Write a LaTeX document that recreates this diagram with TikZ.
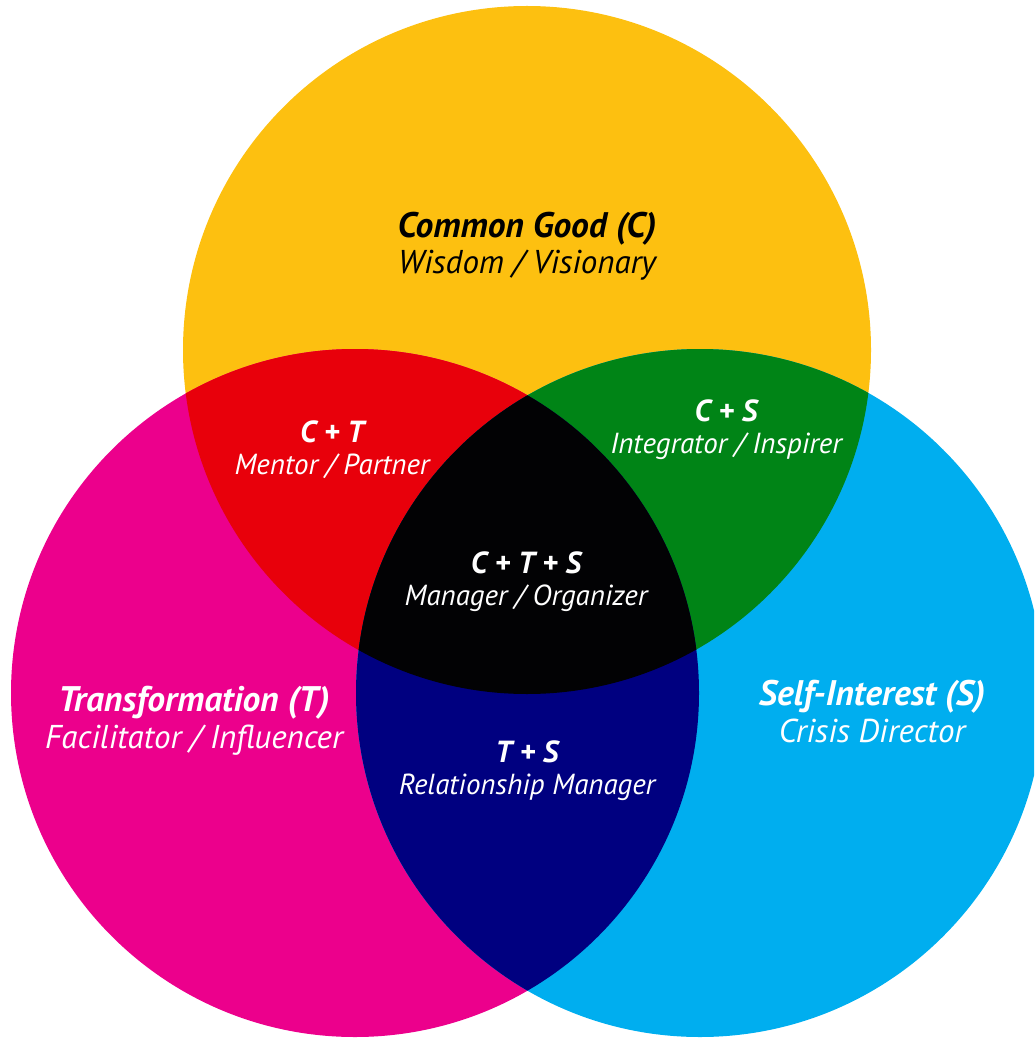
\documentclass[tikz,border=0pt]{standalone}
\usepackage{fontspec}
\setmainfont{PT Sans}
\usetikzlibrary{positioning}

\definecolor{goodyellow}{RGB}{253,192,16}
\definecolor{transmagenta}{RGB}{236,0,140}
\definecolor{selfcyan}{RGB}{0,174,239}
\definecolor{ctred}{RGB}{232,0,11}
\definecolor{csgreen}{RGB}{0,132,22}
\definecolor{tsnavy}{RGB}{0,0,128}
\definecolor{ctsblack}{RGB}{2,2,4}

% heading lines of the labels
\newcommand{\outerhead}[1]{{\fontsize{35.5}{36.5}\selectfont\bfseries #1}}
\newcommand{\innerhead}[1]{{\fontsize{30.5}{31.5}\selectfont\bfseries #1}}

\begin{document}
\begin{tikzpicture}[x=1pt,y=-1pt,
  outerlabel/.style={font=\itshape\fontsize{33}{36.5}\selectfont},
  innerlabel/.style={font=\itshape\fontsize{29}{31.5}\selectfont}]
\tikzstyle{every node}+=[inner sep=0pt, align=center, anchor=base, text=white]
\useasboundingbox (0,0) rectangle (1034,1040);
\clip (0,0) rectangle (1034,1040);
\coordinate (c) at (527,350);
\coordinate (t) at (355,693);
\coordinate (s) at (700,693);
% the three circles
\fill [goodyellow] (c) circle (344pt);
\fill [transmagenta] (t) circle (344pt);
\fill [selfcyan] (s) circle (344pt);
% pairwise overlaps
\begin{scope}
\clip (c) circle (344pt);
\fill [ctred] (t) circle (344pt);
\end{scope}
\begin{scope}
\clip (c) circle (344pt);
\fill [csgreen] (s) circle (344pt);
\end{scope}
\begin{scope}
\clip (t) circle (344pt);
\fill [tsnavy] (s) circle (344pt);
\end{scope}
% centre, all three
\begin{scope}
\clip (c) circle (344pt);
\clip (t) circle (344pt);
\fill [ctsblack] (s) circle (344pt);
\end{scope}
% labels (base = baseline of the second line)
\node [outerlabel, text=black] (good) at (527,274) {\outerhead{Common Good (C)}\\Wisdom / Visionary};
\node [outerlabel] (trans) at (194,748) {\outerhead{Transformation (T)}\\Facilitator / Influencer};
\node [outerlabel] (self) at (872,742) {\outerhead{Self-Interest (S)}\\Crisis Director};
\node [innerlabel] (ct) at (332,474) {\innerhead{C + T}\\Mentor / Partner};
\node [innerlabel] (cs) at (726,453) {\innerhead{C + S}\\Integrator / Inspirer};
\node [innerlabel] (cts) at (526,605) {\innerhead{C + T + S}\\Manager / Organizer};
\node [innerlabel] (ts) at (527,794) {\innerhead{T + S}\\Relationship Manager};
\end{tikzpicture}
\end{document}
